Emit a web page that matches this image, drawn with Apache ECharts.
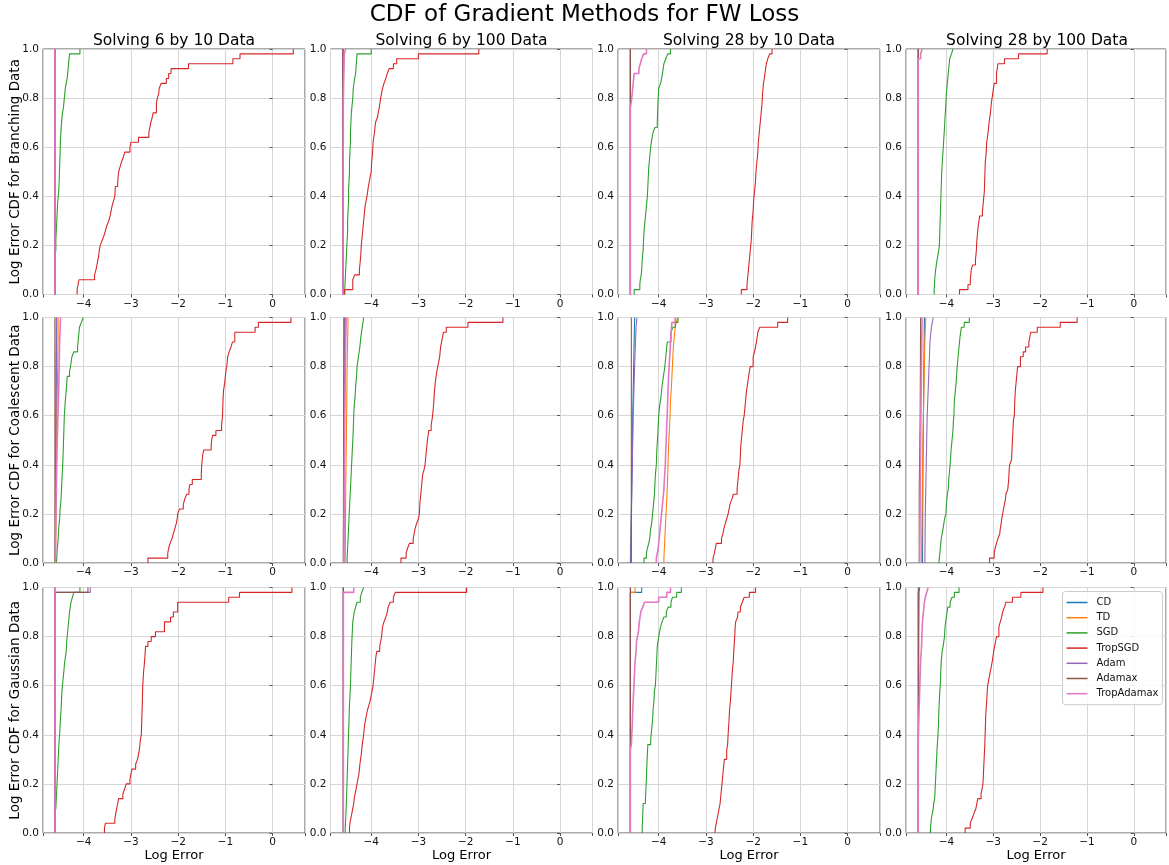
<!DOCTYPE html>
<html>
<head>
<meta charset="utf-8">
<title>CDF of Gradient Methods for FW Loss</title>
<script src="https://cdn.jsdelivr.net/npm/echarts@6/dist/echarts.min.js"></script>
<style>
html, body { margin: 0; padding: 0; background: #fff; }
#cdfChart { width: 1169px; height: 865px; }
</style>
</head>
<body>
<div id="cdfChart"></div>
<script>
// methods in plotting order (later ones are drawn on top)
const methods = ['CD', 'TD', 'SGD', 'TropSGD', 'Adam', 'Adamax', 'TropAdamax'];
const colTitles = ['Solving 6 by 10 Data', 'Solving 6 by 100 Data', 'Solving 28 by 10 Data', 'Solving 28 by 100 Data'];
const rowNames = ['Log Error CDF for Branching Data', 'Log Error CDF for Coalescent Data', 'Log Error CDF for Gaussian Data'];
const xTickValues = [-4, -3, -2, -1, 0];
const xLimits = [-4.862, 0.687];

// each curve: [log error, cdf level reached at that log error]
// ---- Branching ----
const br6x10_CD = [[-4.61, 0], [-4.61, 1]];
const br6x10_TD = [[-4.61, 0], [-4.61, 1]];
const br6x10_SGD = [[-4.61,0],[-4.61,0.16],[-4.59,0.18],[-4.59,0.22],[-4.58,0.26],[-4.57,0.30],[-4.56,0.34],[-4.55,0.38],[-4.53,0.42],[-4.52,0.46],[-4.51,0.52],[-4.50,0.58],[-4.49,0.64],[-4.47,0.70],[-4.45,0.74],[-4.43,0.76],[-4.41,0.80],[-4.39,0.84],[-4.37,0.86],[-4.35,0.88],[-4.33,0.92],[-4.31,0.96],[-4.30,0.98],[-4.08,1.0]];
const br6x10_TropSGD = [[-4.14,0],[-4.14,0.02],[-4.10,0.06],[-3.77,0.08],[-3.74,0.10],[-3.72,0.12],[-3.70,0.14],[-3.68,0.16],[-3.67,0.18],[-3.65,0.20],[-3.61,0.22],[-3.57,0.24],[-3.54,0.26],[-3.51,0.28],[-3.47,0.30],[-3.44,0.32],[-3.42,0.34],[-3.40,0.36],[-3.37,0.38],[-3.34,0.40],[-3.33,0.44],[-3.28,0.46],[-3.27,0.48],[-3.26,0.50],[-3.23,0.52],[-3.20,0.54],[-3.16,0.56],[-3.13,0.58],[-3.02,0.60],[-3.00,0.62],[-2.84,0.64],[-2.62,0.66],[-2.60,0.68],[-2.58,0.70],[-2.55,0.72],[-2.53,0.74],[-2.46,0.78],[-2.44,0.80],[-2.41,0.82],[-2.40,0.84],[-2.36,0.86],[-2.25,0.88],[-2.20,0.90],[-2.15,0.92],[-1.78,0.94],[-0.84,0.96],[-0.69,0.98],[0.44,1.0]];
const br6x10_Adam = [[-4.61, 0], [-4.61, 1]];
const br6x10_Adamax = [[-4.61, 0], [-4.61, 1]];
const br6x10_TropAdamax = [[-4.61, 0], [-4.61, 1]];

const br6x100_CD = [[-4.60, 0], [-4.60, 1]];
const br6x100_TD = [[-4.60, 0], [-4.60, 1]];
const br6x100_SGD = [[-4.57,0],[-4.56,0.02],[-4.55,0.06],[-4.54,0.10],[-4.53,0.14],[-4.52,0.18],[-4.51,0.22],[-4.50,0.26],[-4.50,0.30],[-4.49,0.34],[-4.48,0.38],[-4.48,0.42],[-4.47,0.46],[-4.46,0.50],[-4.46,0.54],[-4.45,0.58],[-4.44,0.62],[-4.44,0.66],[-4.43,0.70],[-4.42,0.74],[-4.41,0.76],[-4.39,0.80],[-4.38,0.84],[-4.35,0.88],[-4.33,0.90],[-4.30,0.98],[-4.00,1.0]];
const br6x100_TropSGD = [[-4.56,0],[-4.56,0.02],[-4.39,0.06],[-4.35,0.08],[-4.25,0.10],[-4.24,0.12],[-4.23,0.14],[-4.22,0.16],[-4.21,0.20],[-4.19,0.24],[-4.17,0.28],[-4.15,0.32],[-4.13,0.36],[-4.09,0.40],[-4.06,0.44],[-4.04,0.46],[-4.00,0.50],[-3.99,0.54],[-3.97,0.58],[-3.96,0.62],[-3.93,0.66],[-3.91,0.70],[-3.87,0.72],[-3.83,0.76],[-3.80,0.80],[-3.76,0.84],[-3.73,0.86],[-3.69,0.88],[-3.66,0.90],[-3.62,0.92],[-3.53,0.94],[-3.46,0.96],[-3.00,0.98],[-1.72,1.0]];
const br6x100_Adam = [[-4.60, 0], [-4.60, 1]];
const br6x100_Adamax = [[-4.60, 0], [-4.60, 1]];
const br6x100_TropAdamax = [[-4.60,0],[-4.59,0.8],[-4.57,0.98],[-4.54,1]];

const br28x10_CD = [[-4.60, 0], [-4.60, 1]];
const br28x10_TD = [[-4.60, 0], [-4.60, 1]];
const br28x10_SGD = [[-4.52,0],[-4.52,0.02],[-4.40,0.04],[-4.39,0.06],[-4.37,0.08],[-4.36,0.10],[-4.35,0.14],[-4.33,0.18],[-4.32,0.22],[-4.31,0.26],[-4.30,0.28],[-4.28,0.32],[-4.26,0.36],[-4.24,0.40],[-4.23,0.44],[-4.22,0.48],[-4.21,0.52],[-4.19,0.56],[-4.17,0.60],[-4.14,0.64],[-4.12,0.66],[-4.08,0.68],[-4.03,0.70],[-4.02,0.76],[-4.00,0.84],[-3.96,0.86],[-3.92,0.90],[-3.89,0.94],[-3.85,0.96],[-3.81,0.98],[-3.75,1.0]];
const br28x10_TropSGD = [[-2.25,0],[-2.25,0.02],[-2.13,0.04],[-2.12,0.06],[-2.10,0.10],[-2.08,0.14],[-2.06,0.18],[-2.04,0.22],[-2.03,0.26],[-2.02,0.30],[-2.00,0.34],[-1.99,0.38],[-1.97,0.42],[-1.95,0.46],[-1.94,0.50],[-1.92,0.54],[-1.90,0.58],[-1.89,0.62],[-1.87,0.66],[-1.85,0.70],[-1.83,0.74],[-1.81,0.78],[-1.80,0.82],[-1.78,0.86],[-1.75,0.90],[-1.72,0.94],[-1.69,0.96],[-1.65,0.98],[-1.60,1.0]];
const br28x10_Adam = [[-4.60, 0], [-4.60, 1]];
const br28x10_Adamax = [[-4.60, 0], [-4.60, 1]];
const br28x10_TropAdamax = [[-4.60,0],[-4.60,0.76],[-4.57,0.80],[-4.55,0.84],[-4.53,0.88],[-4.52,0.90],[-4.42,0.92],[-4.39,0.94],[-4.36,0.96],[-4.32,0.98],[-4.26,1.0]];

const br28x100_CD = [[-4.60, 0], [-4.60, 1]];
const br28x100_TD = [[-4.60, 0], [-4.60, 1]];
const br28x100_SGD = [[-4.26,0],[-4.26,0.02],[-4.25,0.06],[-4.23,0.10],[-4.20,0.14],[-4.18,0.16],[-4.15,0.20],[-4.14,0.26],[-4.13,0.32],[-4.12,0.38],[-4.11,0.44],[-4.10,0.50],[-4.08,0.56],[-4.06,0.62],[-4.04,0.68],[-4.03,0.72],[-4.01,0.78],[-4.00,0.82],[-3.98,0.86],[-3.96,0.90],[-3.94,0.94],[-3.93,0.96],[-3.89,0.98],[-3.86,1.0]];
const br28x100_TropSGD = [[-3.72,0],[-3.72,0.02],[-3.54,0.04],[-3.49,0.06],[-3.47,0.10],[-3.44,0.12],[-3.38,0.14],[-3.36,0.18],[-3.35,0.22],[-3.33,0.26],[-3.32,0.28],[-3.29,0.32],[-3.23,0.34],[-3.21,0.38],[-3.19,0.42],[-3.18,0.48],[-3.17,0.54],[-3.15,0.58],[-3.14,0.62],[-3.11,0.66],[-3.09,0.70],[-3.06,0.74],[-3.04,0.78],[-3.01,0.82],[-2.98,0.86],[-2.93,0.90],[-2.90,0.94],[-2.76,0.96],[-2.46,0.98],[-1.85,1.0]];
const br28x100_Adam = [[-4.60, 0], [-4.60, 1]];
const br28x100_Adamax = [[-4.60, 0], [-4.60, 1]];
const br28x100_TropAdamax = [[-4.60,0],[-4.60,0.96],[-4.55,0.98],[-4.52,1]];

// ---- Coalescent ----
const co6x10_CD = [[-4.60,0],[-4.59,0.4],[-4.58,0.8],[-4.57,1]];
const co6x10_TD = [[-4.60,0],[-4.58,0.3],[-4.57,0.6],[-4.55,0.8],[-4.54,1]];
const co6x10_SGD = [[-4.58,0],[-4.57,0.02],[-4.56,0.06],[-4.54,0.10],[-4.53,0.14],[-4.51,0.18],[-4.50,0.22],[-4.48,0.26],[-4.47,0.30],[-4.46,0.34],[-4.45,0.38],[-4.44,0.42],[-4.43,0.48],[-4.42,0.54],[-4.41,0.60],[-4.39,0.66],[-4.37,0.70],[-4.35,0.76],[-4.30,0.78],[-4.28,0.80],[-4.25,0.84],[-4.21,0.86],[-4.13,0.88],[-4.11,0.92],[-4.09,0.96],[-4.05,0.98],[-4.01,1.0]];
const co6x10_TropSGD = [[-2.64,0],[-2.64,0.02],[-2.22,0.04],[-2.20,0.06],[-2.17,0.08],[-2.13,0.10],[-2.10,0.12],[-2.07,0.14],[-2.04,0.16],[-2.02,0.18],[-2.01,0.20],[-1.97,0.22],[-1.89,0.24],[-1.86,0.26],[-1.82,0.28],[-1.77,0.30],[-1.75,0.32],[-1.70,0.34],[-1.51,0.36],[-1.50,0.40],[-1.48,0.44],[-1.46,0.46],[-1.30,0.48],[-1.29,0.50],[-1.27,0.52],[-1.20,0.54],[-1.08,0.56],[-1.06,0.60],[-1.05,0.66],[-1.04,0.70],[-1.01,0.74],[-0.99,0.78],[-0.97,0.80],[-0.95,0.84],[-0.92,0.86],[-0.88,0.88],[-0.85,0.90],[-0.80,0.94],[-0.37,0.96],[-0.30,0.98],[0.39,1.0]];
const co6x10_Adam = [[-4.60,0],[-4.59,0.5],[-4.58,1]];
const co6x10_Adamax = [[-4.61,0],[-4.61,1]];
const co6x10_TropAdamax = [[-4.60,0],[-4.58,0.3],[-4.56,0.5],[-4.53,0.7],[-4.51,0.9],[-4.49,1]];

const co6x100_CD = [[-4.58,0],[-4.57,0.4],[-4.56,0.8],[-4.55,1]];
const co6x100_TD = [[-4.55,0],[-4.54,0.3],[-4.52,0.6],[-4.51,0.8],[-4.49,1]];
const co6x100_SGD = [[-4.51,0],[-4.51,0.02],[-4.50,0.06],[-4.49,0.10],[-4.48,0.14],[-4.47,0.18],[-4.46,0.22],[-4.45,0.26],[-4.44,0.30],[-4.43,0.34],[-4.42,0.38],[-4.41,0.42],[-4.40,0.46],[-4.39,0.50],[-4.38,0.54],[-4.37,0.60],[-4.36,0.64],[-4.34,0.68],[-4.33,0.72],[-4.31,0.76],[-4.30,0.80],[-4.27,0.84],[-4.24,0.88],[-4.22,0.92],[-4.19,0.96],[-4.16,1.0]];
const co6x100_TropSGD = [[-3.37,0],[-3.37,0.02],[-3.26,0.04],[-3.23,0.06],[-3.19,0.08],[-3.11,0.10],[-3.09,0.12],[-3.07,0.14],[-3.04,0.16],[-3.00,0.18],[-2.98,0.20],[-2.97,0.24],[-2.95,0.28],[-2.93,0.32],[-2.91,0.36],[-2.88,0.38],[-2.86,0.40],[-2.84,0.44],[-2.82,0.48],[-2.81,0.50],[-2.78,0.54],[-2.73,0.56],[-2.70,0.60],[-2.68,0.64],[-2.66,0.70],[-2.64,0.74],[-2.61,0.78],[-2.59,0.80],[-2.55,0.84],[-2.53,0.88],[-2.51,0.90],[-2.47,0.94],[-2.41,0.96],[-1.95,0.98],[-1.21,1.0]];
const co6x100_Adam = [[-4.59,0],[-4.58,0.5],[-4.56,1]];
const co6x100_Adamax = [[-4.59,0],[-4.58,1]];
const co6x100_TropAdamax = [[-4.58,0],[-4.57,0.3],[-4.56,0.6],[-4.54,0.9],[-4.53,1]];

const co28x10_CD = [[-4.60,0],[-4.58,0.2],[-4.56,0.4],[-4.55,0.6],[-4.53,0.8],[-4.51,1]];
const co28x10_TD = [[-3.89,0],[-3.89,0.02],[-3.88,0.06],[-3.87,0.10],[-3.86,0.14],[-3.85,0.18],[-3.84,0.22],[-3.83,0.26],[-3.82,0.30],[-3.81,0.36],[-3.80,0.42],[-3.79,0.48],[-3.78,0.52],[-3.77,0.56],[-3.76,0.60],[-3.75,0.66],[-3.73,0.72],[-3.72,0.76],[-3.71,0.80],[-3.70,0.84],[-3.69,0.88],[-3.67,0.92],[-3.65,0.96],[-3.63,0.98],[-3.60,1.0]];
const co28x10_SGD = [[-4.31,0],[-4.31,0.02],[-4.26,0.04],[-4.24,0.06],[-4.21,0.08],[-4.19,0.10],[-4.17,0.14],[-4.15,0.16],[-4.13,0.20],[-4.11,0.24],[-4.09,0.28],[-4.08,0.32],[-4.07,0.36],[-4.05,0.40],[-4.04,0.46],[-4.02,0.52],[-4.01,0.56],[-4.00,0.60],[-3.98,0.64],[-3.95,0.68],[-3.93,0.72],[-3.90,0.76],[-3.87,0.80],[-3.85,0.84],[-3.83,0.88],[-3.82,0.90],[-3.74,0.94],[-3.70,0.96],[-3.65,0.98],[-3.59,1.0]];
const co28x10_TropSGD = [[-2.85,0],[-2.85,0.02],[-2.82,0.04],[-2.78,0.08],[-2.67,0.10],[-2.64,0.12],[-2.62,0.14],[-2.59,0.16],[-2.56,0.18],[-2.53,0.20],[-2.51,0.22],[-2.49,0.24],[-2.45,0.26],[-2.42,0.28],[-2.34,0.30],[-2.32,0.34],[-2.30,0.38],[-2.28,0.40],[-2.27,0.44],[-2.26,0.48],[-2.25,0.50],[-2.23,0.54],[-2.21,0.58],[-2.19,0.60],[-2.17,0.64],[-2.15,0.68],[-2.14,0.70],[-2.11,0.74],[-2.08,0.78],[-2.06,0.80],[-2.00,0.84],[-1.97,0.86],[-1.95,0.88],[-1.93,0.90],[-1.90,0.94],[-1.86,0.96],[-1.48,0.98],[-1.27,1.0]];
const co28x10_Adam = [[-4.59,0],[-4.57,0.3],[-4.54,0.6],[-4.51,0.8],[-4.48,0.96],[-4.46,1]];
const co28x10_Adamax = [[-4.58,0],[-4.58,1]];
const co28x10_TropAdamax = [[-4.05,0],[-4.05,0.02],[-4.03,0.04],[-4.01,0.06],[-3.99,0.10],[-3.97,0.14],[-3.95,0.18],[-3.93,0.22],[-3.91,0.26],[-3.89,0.30],[-3.88,0.34],[-3.86,0.40],[-3.85,0.46],[-3.84,0.50],[-3.83,0.56],[-3.82,0.60],[-3.81,0.66],[-3.80,0.72],[-3.79,0.76],[-3.78,0.80],[-3.76,0.86],[-3.75,0.90],[-3.73,0.96],[-3.72,0.98],[-3.65,1.0]];

const co28x100_CD = [[-4.51,0],[-4.50,0.4],[-4.48,0.8],[-4.47,1]];
const co28x100_TD = [[-4.53,0],[-4.52,0.2],[-4.50,0.5],[-4.48,0.7],[-4.46,0.9],[-4.44,1]];
const co28x100_SGD = [[-4.16,0],[-4.15,0.02],[-4.14,0.04],[-4.13,0.06],[-4.11,0.10],[-4.09,0.12],[-4.07,0.14],[-4.04,0.18],[-4.01,0.20],[-4.00,0.24],[-3.98,0.28],[-3.96,0.30],[-3.95,0.34],[-3.93,0.38],[-3.92,0.40],[-3.90,0.46],[-3.88,0.50],[-3.86,0.54],[-3.85,0.58],[-3.84,0.60],[-3.83,0.66],[-3.81,0.70],[-3.79,0.74],[-3.77,0.80],[-3.75,0.84],[-3.73,0.88],[-3.71,0.92],[-3.68,0.96],[-3.62,0.98],[-3.51,1.0]];
const co28x100_TropSGD = [[-3.08,0],[-3.08,0.02],[-2.98,0.04],[-2.96,0.06],[-2.93,0.08],[-2.90,0.10],[-2.86,0.12],[-2.85,0.14],[-2.83,0.16],[-2.82,0.18],[-2.80,0.20],[-2.78,0.22],[-2.76,0.24],[-2.74,0.26],[-2.73,0.28],[-2.69,0.30],[-2.67,0.34],[-2.66,0.38],[-2.65,0.40],[-2.61,0.42],[-2.60,0.46],[-2.59,0.50],[-2.58,0.54],[-2.57,0.58],[-2.55,0.60],[-2.54,0.66],[-2.53,0.70],[-2.51,0.74],[-2.49,0.78],[-2.48,0.80],[-2.42,0.84],[-2.36,0.86],[-2.31,0.88],[-2.24,0.90],[-2.22,0.92],[-2.20,0.94],[-2.06,0.96],[-1.57,0.98],[-1.21,1.0]];
const co28x100_Adam = [[-4.46,0],[-4.45,0.2],[-4.43,0.4],[-4.41,0.6],[-4.39,0.7],[-4.37,0.8],[-4.35,0.9],[-4.32,0.96],[-4.28,1]];
const co28x100_Adamax = [[-4.58,0],[-4.58,0.3],[-4.56,0.6],[-4.55,1]];
const co28x100_TropAdamax = [[-4.57,0],[-4.55,0.5],[-4.52,1]];

// ---- Gaussian ----
const ga6x10_CD = [[-4.61,0],[-4.61,1]];
const ga6x10_TD = [[-4.61,0],[-4.61,1]];
const ga6x10_SGD = [[-4.61,0],[-4.61,0.08],[-4.59,0.10],[-4.58,0.14],[-4.57,0.18],[-4.56,0.22],[-4.55,0.26],[-4.54,0.30],[-4.53,0.34],[-4.52,0.38],[-4.51,0.40],[-4.50,0.44],[-4.48,0.50],[-4.47,0.54],[-4.46,0.58],[-4.45,0.60],[-4.43,0.64],[-4.41,0.68],[-4.40,0.70],[-4.37,0.74],[-4.36,0.78],[-4.34,0.82],[-4.33,0.84],[-4.31,0.88],[-4.30,0.90],[-4.27,0.94],[-4.24,0.96],[-4.21,0.98],[-4.08,1.0]];
const ga6x10_TropSGD = [[-3.56,0],[-3.56,0.02],[-3.54,0.04],[-3.34,0.06],[-3.32,0.08],[-3.30,0.10],[-3.28,0.12],[-3.26,0.14],[-3.17,0.16],[-3.13,0.18],[-3.10,0.20],[-3.02,0.22],[-3.00,0.24],[-2.98,0.26],[-2.90,0.28],[-2.86,0.30],[-2.84,0.32],[-2.82,0.34],[-2.80,0.38],[-2.78,0.40],[-2.77,0.46],[-2.76,0.52],[-2.75,0.60],[-2.73,0.66],[-2.71,0.70],[-2.69,0.76],[-2.64,0.78],[-2.57,0.80],[-2.48,0.82],[-2.29,0.86],[-2.16,0.88],[-2.10,0.90],[-2.01,0.94],[-0.93,0.96],[-0.70,0.98],[0.41,1.0]];
const ga6x10_Adam = [[-4.61,0],[-4.61,0.98],[-3.86,1]];
const ga6x10_Adamax = [[-4.61,0],[-4.61,0.98],[-3.91,1]];
const ga6x10_TropAdamax = [[-4.61,0],[-4.61,1]];

const ga6x100_CD = [[-4.59,0],[-4.59,1]];
const ga6x100_TD = [[-4.59,0],[-4.59,1]];
const ga6x100_SGD = [[-4.55,0],[-4.55,0.02],[-4.54,0.06],[-4.53,0.10],[-4.52,0.16],[-4.51,0.22],[-4.50,0.28],[-4.49,0.34],[-4.48,0.40],[-4.47,0.46],[-4.46,0.52],[-4.45,0.56],[-4.44,0.60],[-4.43,0.66],[-4.42,0.72],[-4.41,0.78],[-4.40,0.82],[-4.39,0.86],[-4.36,0.90],[-4.33,0.92],[-4.30,0.94],[-4.23,0.96],[-4.20,0.98],[-4.16,1.0]];
const ga6x100_TropSGD = [[-4.46,0],[-4.46,0.02],[-4.45,0.04],[-4.43,0.06],[-4.41,0.08],[-4.39,0.10],[-4.37,0.12],[-4.36,0.14],[-4.34,0.16],[-4.32,0.18],[-4.30,0.20],[-4.28,0.22],[-4.26,0.24],[-4.24,0.28],[-4.21,0.32],[-4.19,0.36],[-4.16,0.40],[-4.14,0.44],[-4.12,0.46],[-4.08,0.50],[-4.05,0.52],[-4.02,0.54],[-4.00,0.56],[-3.98,0.58],[-3.96,0.60],[-3.94,0.64],[-3.92,0.68],[-3.90,0.72],[-3.88,0.74],[-3.82,0.76],[-3.80,0.78],[-3.78,0.80],[-3.76,0.84],[-3.73,0.86],[-3.69,0.88],[-3.66,0.90],[-3.64,0.92],[-3.60,0.94],[-3.53,0.96],[-3.49,0.98],[-1.98,1.0]];
const ga6x100_Adam = [[-4.59,0],[-4.59,1]];
const ga6x100_Adamax = [[-4.59,0],[-4.59,1]];
const ga6x100_TropAdamax = [[-4.59,0],[-4.59,0.98],[-4.37,1]];

const ga28x10_CD = [[-4.60,0],[-4.60,0.98],[-4.36,1]];
const ga28x10_TD = [[-4.60,0],[-4.60,0.98],[-4.50,1]];
const ga28x10_SGD = [[-4.35,0],[-4.35,0.02],[-4.34,0.06],[-4.33,0.12],[-4.28,0.14],[-4.27,0.18],[-4.26,0.22],[-4.25,0.28],[-4.24,0.32],[-4.23,0.36],[-4.17,0.38],[-4.15,0.42],[-4.13,0.46],[-4.12,0.50],[-4.10,0.54],[-4.09,0.58],[-4.07,0.60],[-4.06,0.64],[-4.05,0.68],[-4.04,0.72],[-4.03,0.76],[-4.00,0.80],[-3.96,0.84],[-3.93,0.86],[-3.89,0.88],[-3.84,0.90],[-3.80,0.92],[-3.74,0.94],[-3.71,0.96],[-3.62,0.98],[-3.52,1.0]];
const ga28x10_TropSGD = [[-2.81,0],[-2.80,0.02],[-2.78,0.04],[-2.76,0.06],[-2.74,0.08],[-2.72,0.10],[-2.70,0.12],[-2.69,0.14],[-2.67,0.18],[-2.65,0.22],[-2.63,0.26],[-2.61,0.30],[-2.56,0.34],[-2.54,0.36],[-2.53,0.40],[-2.51,0.46],[-2.50,0.50],[-2.48,0.54],[-2.46,0.60],[-2.44,0.66],[-2.42,0.70],[-2.41,0.74],[-2.39,0.80],[-2.38,0.84],[-2.37,0.86],[-2.33,0.88],[-2.32,0.90],[-2.27,0.92],[-2.23,0.94],[-2.19,0.96],[-2.08,0.98],[-1.95,1.0]];
const ga28x10_Adam = [[-4.60,0],[-4.60,1]];
const ga28x10_Adamax = [[-4.60,0],[-4.60,1]];
const ga28x10_TropAdamax = [[-4.60,0],[-4.60,0.34],[-4.58,0.36],[-4.57,0.40],[-4.56,0.44],[-4.55,0.50],[-4.54,0.54],[-4.53,0.58],[-4.52,0.62],[-4.51,0.66],[-4.50,0.70],[-4.48,0.74],[-4.47,0.78],[-4.45,0.80],[-4.43,0.82],[-4.41,0.86],[-4.38,0.90],[-4.34,0.92],[-4.30,0.94],[-4.00,0.96],[-3.83,0.98],[-3.75,1.0]];

const ga28x100_CD = [[-4.60,0],[-4.60,1]];
const ga28x100_TD = [[-4.60,0],[-4.59,0.8],[-4.58,0.98],[-4.57,1]];
const ga28x100_SGD = [[-4.34,0],[-4.34,0.02],[-4.33,0.04],[-4.32,0.06],[-4.30,0.08],[-4.28,0.10],[-4.27,0.12],[-4.25,0.14],[-4.24,0.18],[-4.23,0.22],[-4.22,0.26],[-4.21,0.30],[-4.20,0.34],[-4.18,0.40],[-4.17,0.44],[-4.16,0.50],[-4.15,0.54],[-4.14,0.58],[-4.13,0.60],[-4.12,0.66],[-4.11,0.70],[-4.09,0.74],[-4.07,0.76],[-4.04,0.80],[-4.03,0.84],[-4.00,0.88],[-3.97,0.92],[-3.92,0.94],[-3.88,0.96],[-3.83,0.98],[-3.73,1.0]];
const ga28x100_TropSGD = [[-3.60,0],[-3.60,0.02],[-3.49,0.04],[-3.45,0.06],[-3.41,0.08],[-3.37,0.10],[-3.35,0.12],[-3.33,0.14],[-3.26,0.16],[-3.24,0.18],[-3.22,0.20],[-3.21,0.24],[-3.20,0.28],[-3.19,0.32],[-3.18,0.36],[-3.17,0.42],[-3.16,0.48],[-3.14,0.54],[-3.12,0.60],[-3.08,0.64],[-3.04,0.68],[-3.02,0.70],[-2.99,0.74],[-2.97,0.76],[-2.93,0.80],[-2.88,0.84],[-2.85,0.86],[-2.82,0.88],[-2.80,0.90],[-2.76,0.92],[-2.73,0.94],[-2.59,0.96],[-2.41,0.98],[-1.94,1.0]];
const ga28x100_Adam = [[-4.60,0],[-4.59,1]];
const ga28x100_Adamax = [[-4.60,0],[-4.60,0.98],[-4.57,1]];
const ga28x100_TropAdamax = [[-4.60,0],[-4.60,0.38],[-4.59,0.46],[-4.58,0.52],[-4.57,0.58],[-4.56,0.64],[-4.55,0.70],[-4.53,0.76],[-4.52,0.82],[-4.51,0.86],[-4.49,0.90],[-4.47,0.94],[-4.45,0.96],[-4.42,0.98],[-4.39,1.0]];

// panels in row-major order, curves in the order of `methods`
const panels = [
  [br6x10_CD, br6x10_TD, br6x10_SGD, br6x10_TropSGD, br6x10_Adam, br6x10_Adamax, br6x10_TropAdamax],
  [br6x100_CD, br6x100_TD, br6x100_SGD, br6x100_TropSGD, br6x100_Adam, br6x100_Adamax, br6x100_TropAdamax],
  [br28x10_CD, br28x10_TD, br28x10_SGD, br28x10_TropSGD, br28x10_Adam, br28x10_Adamax, br28x10_TropAdamax],
  [br28x100_CD, br28x100_TD, br28x100_SGD, br28x100_TropSGD, br28x100_Adam, br28x100_Adamax, br28x100_TropAdamax],
  [co6x10_CD, co6x10_TD, co6x10_SGD, co6x10_TropSGD, co6x10_Adam, co6x10_Adamax, co6x10_TropAdamax],
  [co6x100_CD, co6x100_TD, co6x100_SGD, co6x100_TropSGD, co6x100_Adam, co6x100_Adamax, co6x100_TropAdamax],
  [co28x10_CD, co28x10_TD, co28x10_SGD, co28x10_TropSGD, co28x10_Adam, co28x10_Adamax, co28x10_TropAdamax],
  [co28x100_CD, co28x100_TD, co28x100_SGD, co28x100_TropSGD, co28x100_Adam, co28x100_Adamax, co28x100_TropAdamax],
  [ga6x10_CD, ga6x10_TD, ga6x10_SGD, ga6x10_TropSGD, ga6x10_Adam, ga6x10_Adamax, ga6x10_TropAdamax],
  [ga6x100_CD, ga6x100_TD, ga6x100_SGD, ga6x100_TropSGD, ga6x100_Adam, ga6x100_Adamax, ga6x100_TropAdamax],
  [ga28x10_CD, ga28x10_TD, ga28x10_SGD, ga28x10_TropSGD, ga28x10_Adam, ga28x10_Adamax, ga28x10_TropAdamax],
  [ga28x100_CD, ga28x100_TD, ga28x100_SGD, ga28x100_TropSGD, ga28x100_Adam, ga28x100_Adamax, ga28x100_TropAdamax]
];

// look
const palette = ['#1f77b4', '#ff7f0e', '#2ca02c', '#d62728', '#9467bd', '#8c564b', '#e377c2'];
const lineWidths = [1.1, 1.1, 1.1, 1.1, 1.1, 1.1, 1.6];
const font = 'DejaVu Sans';
const colLeft = [43, 330.5, 618, 906];
const rowTop = [49, 317.5, 587.5];
const panelW = 262, panelH = 245.5;

function drawCharts () {
  const chartDom = document.getElementById('cdfChart');
  let myChart = echarts.init(chartDom, null, { renderer: 'canvas' });

  const grid = [], xAxis = [], yAxis = [], series = [];
  const title = [{
    text: 'CDF of Gradient Methods for FW Loss',
    left: 'center', top: 4, padding: 0,
    textStyle: { fontFamily: font, fontSize: 23, fontWeight: 'normal', color: '#000' }
  }];
  colTitles.forEach((t, c) => {
    title.push({
      text: t, left: colLeft[c] + panelW / 2, top: 33, padding: 0, textAlign: 'center',
      textStyle: { fontFamily: font, fontSize: 15.5, fontWeight: 'normal', color: '#000' }
    });
  });

  panels.forEach((curves, k) => {
    const r = Math.floor(k / 4), c = k % 4;
    grid.push({
      left: colLeft[c], top: rowTop[r], width: panelW, height: panelH,
      show: true, borderColor: '#555', borderWidth: 1, backgroundColor: 'transparent'
    });
    xAxis.push({
      gridIndex: k, type: 'value', min: xLimits[0], max: xLimits[1],
      name: r === 2 ? 'Log Error' : '', nameLocation: 'middle', nameGap: 16,
      nameTextStyle: { fontFamily: font, fontSize: 13, color: '#000' },
      axisLine: { show: false },
      axisTick: { show: true, length: 3, lineStyle: { color: '#555' } },
      axisLabel: {
        margin: 4, fontFamily: font, fontSize: 10.5, color: '#111',
        formatter: v => xTickValues.includes(v) ? (v < 0 ? '\u2212' + (-v) : String(v)) : ''
      },
      splitLine: { show: true, lineStyle: { color: '#d6d6d6', width: 1 } }
    });
    yAxis.push({
      gridIndex: k, type: 'value', min: 0, max: 1, interval: 0.2,
      name: c === 0 ? rowNames[r] : '', nameLocation: 'middle', nameGap: 21, nameRotate: 90,
      nameMoveOverlap: false,
      nameTextStyle: { fontFamily: font, fontSize: 13.5, color: '#000' },
      axisLine: { show: false },
      axisTick: { show: true, length: 3, lineStyle: { color: '#555' } },
      axisLabel: { margin: 4, fontFamily: font, fontSize: 10.5, color: '#111', formatter: v => v.toFixed(1) },
      splitLine: { show: true, lineStyle: { color: '#d6d6d6', width: 1 } }
    });
    curves.forEach((d, m) => {
      series.push({
        name: methods[m], type: 'line', xAxisIndex: k, yAxisIndex: k,
        data: d, step: 'end', symbol: 'none', showSymbol: false,
        color: palette[m],
        lineStyle: { color: palette[m], width: lineWidths[m], opacity: 1 },
        emphasis: { disabled: true }
      });
    });
  });

  let option = {
    animation: false,
    backgroundColor: '#fff',
    title: title,
    grid: grid,
    xAxis: xAxis,
    yAxis: yAxis,
    legend: {
      data: methods, orient: 'vertical', left: 1062.5, top: 591.5,
      padding: [5, 4, 5, 4], itemGap: 3.2, itemWidth: 21, itemHeight: 1.5, icon: 'rect',
      backgroundColor: 'rgba(255,255,255,0.85)', borderColor: '#ccc', borderWidth: 1, borderRadius: 3,
      textStyle: { fontFamily: font, fontSize: 10, color: '#111', padding: [0, 0, 0, 4], lineHeight: 12 }
    },
    series: series
  };
  option && myChart.setOption(option);
}

drawCharts();
</script>
</body>
</html>
